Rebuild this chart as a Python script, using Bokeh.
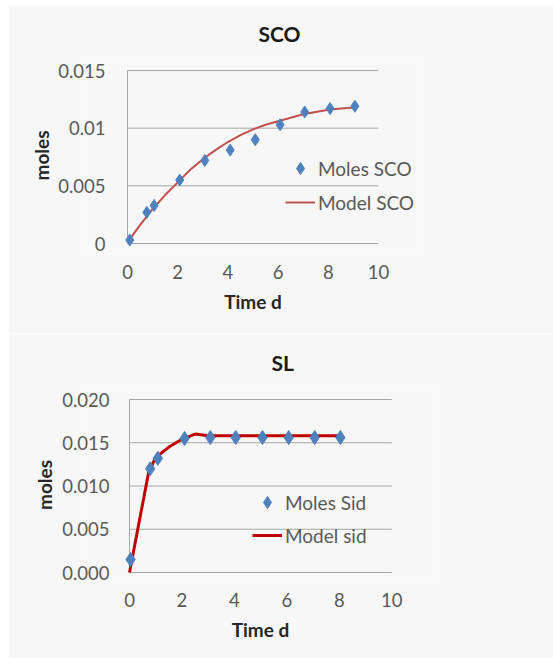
from bokeh.plotting import figure
from bokeh.layouts import column
from bokeh.models import Range1d, FixedTicker, Legend, LegendItem
from bokeh.embed import file_html
from bokeh.resources import INLINE

# ---------------- data: SCO ----------------
sco_time = [0.09, 0.77, 1.06, 2.08, 3.08, 4.09, 5.09, 6.08, 7.06, 8.07, 9.06]
sco_moles = [0.0003, 0.0027, 0.0033, 0.0055, 0.0072, 0.0081, 0.0090, 0.0103, 0.0114, 0.0117, 0.0119]
sco_model_time = [0.0, 0.5, 1.0, 1.5, 2.0, 2.5, 3.0, 3.5, 4.0, 4.5, 5.0, 5.5, 6.0, 6.5, 7.0, 7.5, 8.0, 8.5, 9.05]
sco_model = [0.0001, 0.0016, 0.0030, 0.0042, 0.0053, 0.0064, 0.0073, 0.0081, 0.0088, 0.0094, 0.0099,
             0.0103, 0.0106, 0.0109, 0.0112, 0.0114, 0.0116, 0.0117, 0.0118]
sco_yticks = [0, 0.005, 0.01, 0.015]
sco_ytick_labels = ["0", "0.005", "0.01", "0.015"]

# ---------------- data: SL ----------------
sl_time = [0.04, 0.79, 1.08, 2.10, 3.08, 4.05, 5.07, 6.07, 7.06, 8.04]
sl_moles = [0.0015, 0.0120, 0.0132, 0.0155, 0.0156, 0.0156, 0.0156, 0.0156, 0.0156, 0.0156]
sl_model_time = [0.0, 0.73, 1.0, 1.5, 2.0, 2.5, 3.0, 4.0, 5.0, 6.0, 7.0, 8.05]
sl_model = [0.0, 0.0116, 0.0133, 0.0145, 0.0154, 0.0160, 0.0158, 0.0158, 0.0158, 0.0158, 0.0158, 0.0158]
sl_yticks = [0, 0.005, 0.010, 0.015, 0.020]
sl_ytick_labels = ["0.000", "0.005", "0.010", "0.015", "0.020"]

x_ticks = [0, 2, 4, 6, 8, 10]
x_tick_labels = ["0", "2", "4", "6", "8", "10"]

BG = "#f7f7f7"
FONT = "Lato"
BLUE = "#4F81BD"
GRID = "#a6a6a6"
TICK_COLOR = "#595959"


def make_chart(title, t, m, mt, mv, yticks, ylabels, ymax, leg_points, leg_model,
               width, height, left, top, frame_w, frame_h, px_per_x, pad_x, pad_top, pad_bottom,
               title_offset, title_standoff, line_color, line_width, marker_size, legend_loc,
               legend_spacing, ylabel_standoff, xlabel_standoff, yaxis_label_standoff,
               xaxis_label_standoff, margin):
    x_start = -pad_x / px_per_x
    x_end = x_start + frame_w / px_per_x
    px_per_y = (frame_h - pad_top - pad_bottom) / ymax
    y_start = -pad_bottom / px_per_y
    y_end = y_start + frame_h / px_per_y

    p = figure(width=width, height=height, output_backend="svg", toolbar_location=None,
               x_range=Range1d(x_start, x_end), y_range=Range1d(y_start, y_end),
               min_border_left=left, min_border_top=top,
               min_border_right=width - left - frame_w,
               min_border_bottom=height - top - frame_h,
               background_fill_color=BG, border_fill_color=BG, outline_line_color=None,
               margin=margin)
    if "frame_align" in p.properties():
        p.frame_align = False

    p.title.text = title
    p.title.align = "left"
    p.title.offset = title_offset
    p.title.text_font = FONT
    p.title.text_font_size = "21px"
    p.title.text_font_style = "bold"
    p.title.text_color = "#1a1a1a"
    p.title.standoff = title_standoff

    p.xgrid.visible = False
    p.ygrid.visible = False

    # gridlines and left axis line (under the data)
    p.segment(x0=[0] * len(yticks), x1=[10] * len(yticks), y0=yticks, y1=yticks,
              line_color=GRID, line_width=1)
    p.segment(x0=[0], x1=[0], y0=[0], y1=[ymax], line_color=GRID, line_width=1)

    line_r = p.line(mt, mv, line_color=line_color, line_width=line_width)
    pts_r = p.scatter(t, m, marker="diamond", size=marker_size,
                      fill_color=BLUE, line_color=BLUE)

    for ax in (p.xaxis[0], p.yaxis[0]):
        ax.axis_line_color = None
        ax.major_tick_line_color = None
        ax.minor_tick_line_color = None
        ax.major_label_text_font = FONT
        ax.major_label_text_font_size = "18.5px"
        ax.major_label_text_color = TICK_COLOR
        ax.axis_label_text_font = FONT
        ax.axis_label_text_font_size = "19px"
        ax.axis_label_text_font_style = "bold"
        ax.axis_label_text_color = "#262626"

    p.xaxis.ticker = FixedTicker(ticks=x_ticks)
    p.xaxis.major_label_overrides = dict(zip(x_ticks, x_tick_labels))
    p.xaxis.major_label_standoff = xlabel_standoff
    p.xaxis.axis_label = "Time d"
    p.xaxis.axis_label_standoff = xaxis_label_standoff

    p.yaxis.ticker = FixedTicker(ticks=yticks)
    p.yaxis.major_label_overrides = dict(zip(yticks, ylabels))
    p.yaxis.major_label_standoff = ylabel_standoff
    p.yaxis.axis_label = "moles"
    p.yaxis.axis_label_standoff = yaxis_label_standoff

    legend = Legend(items=[LegendItem(label=leg_points, renderers=[pts_r]),
                           LegendItem(label=leg_model, renderers=[line_r])],
                    location=legend_loc, orientation="vertical",
                    glyph_width=30, glyph_height=30, label_height=30,
                    label_standoff=3, spacing=legend_spacing, padding=0, margin=0,
                    border_line_color=None, background_fill_alpha=0,
                    label_text_font=FONT, label_text_font_size="19px",
                    label_text_color=TICK_COLOR)
    p.add_layout(legend)
    return p


p1 = make_chart("SCO", sco_time, sco_moles, sco_model_time, sco_model,
                sco_yticks, sco_ytick_labels, 0.015, "Moles SCO", "Model SCO",
                width=545, height=328, left=74, top=52, frame_w=341, frame_h=196,
                px_per_x=25.1, pad_x=45, pad_top=13, pad_bottom=10,
                title_offset=176, title_standoff=24,
                line_color="#C0504D", line_width=2, marker_size=12,
                legend_loc=(203, 36), legend_spacing=4,
                ylabel_standoff=-29, xlabel_standoff=5,
                yaxis_label_standoff=2, xaxis_label_standoff=8, margin=(5, 0, 0, 8))

p2 = make_chart("SL", sl_time, sl_moles, sl_model_time, sl_model,
                sl_yticks, sl_ytick_labels, 0.020, "Moles Sid", "Model sid",
                width=545, height=325, left=76, top=54, frame_w=352, frame_h=195,
                px_per_x=26.23, pad_x=45, pad_top=12, pad_bottom=10,
                title_offset=187, title_standoff=26,
                line_color="#C00000", line_width=3, marker_size=14,
                legend_loc=(168, 32), legend_spacing=3,
                ylabel_standoff=-31, xlabel_standoff=4,
                yaxis_label_standoff=3, xaxis_label_standoff=8, margin=(0, 0, 0, 8))

layout = column(p1, p2, spacing=0)
open("out.html", "w").write(file_html(layout, INLINE))
